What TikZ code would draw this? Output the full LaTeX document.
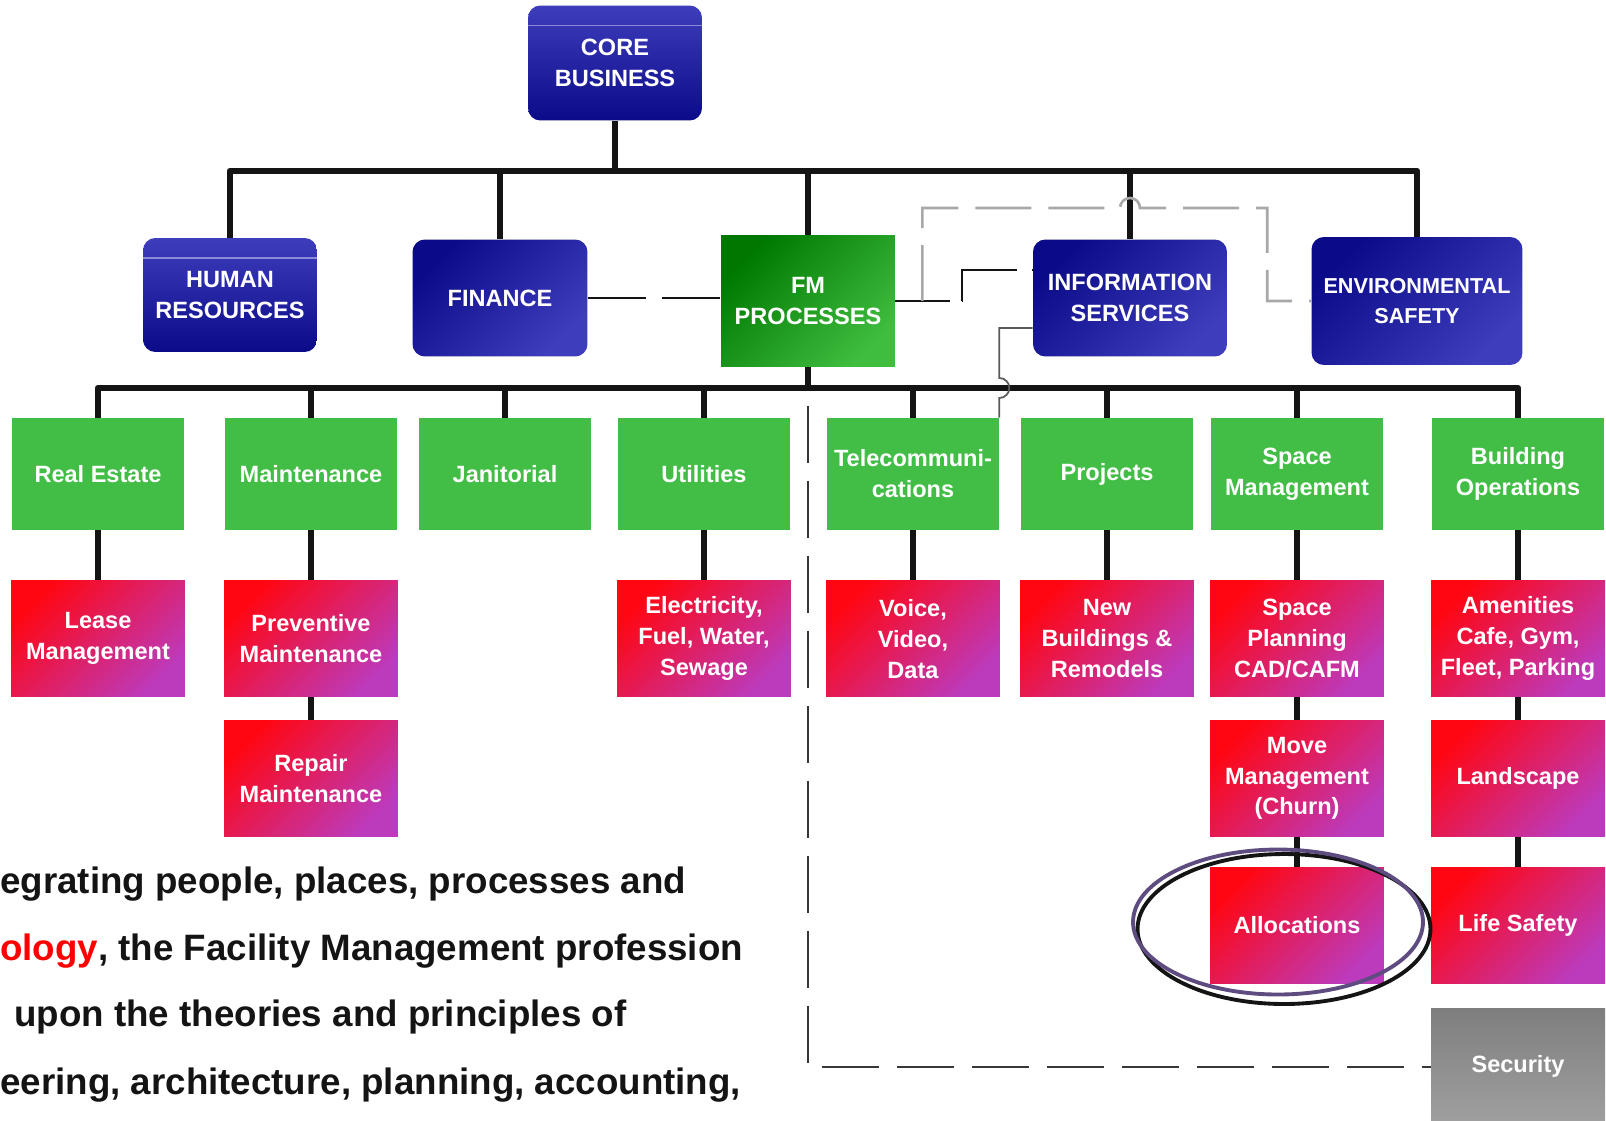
\documentclass[tikz,border=0pt]{standalone}
\usepackage{fontspec}
\setmainfont{Liberation Sans}
\usepackage{tikz}
\usetikzlibrary{
  calc,
  positioning
}
\definecolor{ink}{HTML}{141414}
\definecolor{navydark}{HTML}{0B0B8A}
\definecolor{navylight}{HTML}{3E3EBC}
\definecolor{navyedge}{HTML}{8A8AD8}
\definecolor{fmdark}{HTML}{007800}
\definecolor{fmlight}{HTML}{3FBD3F}
\definecolor{leaf}{HTML}{42BE46}
\definecolor{alarm}{HTML}{FF0612}
\definecolor{berry}{HTML}{E01E52}
\definecolor{plum}{HTML}{BC3ABC}
\definecolor{stone}{HTML}{7E7E7E}
\definecolor{stonelight}{HTML}{A0A0A0}
\definecolor{dashgrey}{HTML}{A8A8A8}
\definecolor{wire}{HTML}{5A5A5A}
\definecolor{ringpurple}{HTML}{5E4C80}
\definecolor{alert}{HTML}{FF0000}
\newcommand{\BoxFont}{\bfseries\fontsize{13.4}{17.6}\selectfont}
\tikzset{
  unitbox/.style={
    rounded corners=7pt,
    minimum width=3.48cm,
    minimum height=2.3cm,
    inner sep=2pt,
    align=center,
    text=white,
    font=\BoxFont
  },
  flatunit/.style={
    unitbox,
    top color=navylight,
    bottom color=navydark,
    path picture={
      \draw[navyedge, line width=1pt]
        ([yshift=-0.4cm]path picture bounding box.north west) --
        ([yshift=-0.4cm]path picture bounding box.north east);
    }
  },
  swirlunit/.style={
    unitbox,
    top color=navydark,
    bottom color=navylight,
    shading angle=45
  },
  fmbox/.style={
    top color=fmdark,
    bottom color=fmlight,
    shading angle=45,
    minimum width=3.48cm,
    minimum height=2.64cm,
    inner sep=2pt,
    align=center,
    text=white,
    font=\BoxFont
  },
  areabox/.style={
    fill=leaf,
    minimum width=3.44cm,
    minimum height=2.24cm,
    inner sep=2pt,
    align=center,
    text=white,
    font=\BoxFont
  },
  taskbox/.style={
    top color=alarm,
    middle color=berry,
    bottom color=plum,
    shading angle=45,
    minimum width=3.48cm,
    minimum height=2.32cm,
    inner sep=2pt,
    align=center,
    text=white,
    font=\BoxFont
  },
  guardbox/.style={
    taskbox,
    top color=stone,
    middle color=stone!60!stonelight,
    bottom color=stonelight
  },
  trunk/.style={
    line width=3.9pt,
    draw=ink,
    line join=round
  },
  peerlink/.style={
    line width=1.1pt,
    draw=ink
  },
  auxlink/.style={
    line width=1.5pt,
    draw=dashgrey,
    dash pattern=on 1.12cm off 0.34cm
  },
  thinlink/.style={
    line width=1pt,
    draw=wire
  },
  seclink/.style={
    line width=1.2pt,
    draw=ink!85,
    dash pattern=on 1.14cm off 0.36cm,
    dash phase=1.14cm
  },
  ring/.style={
    line width=2.2pt
  },
  blurb/.style={
    anchor=base west,
    inner sep=0pt,
    text=ink,
    font=\bfseries\fontsize{20.9}{25}\selectfont
  }
}

\begin{document}
\begin{tikzpicture}[x=0.02cm, y=-0.02cm, node distance=1cm]
    \useasboundingbox (0,0) rectangle (1606,1121);
    \node[flatunit] (core) at (615,63) {CORE\\BUSINESS};
    \node[flatunit, minimum height=2.28cm] (humanres) at (230,295) {HUMAN\\RESOURCES};
    \node[swirlunit, minimum width=3.5cm, minimum height=2.34cm] (finance) at (500,298) {FINANCE};
    \node[fmbox] (fmproc) at (808,301) {FM\\PROCESSES};
    \node[swirlunit, minimum width=3.88cm, minimum height=2.34cm] (infoserv) at (1130,298) {INFORMATION\\SERVICES};
    \node[swirlunit, minimum width=4.22cm, minimum height=2.56cm,
      font=\bfseries\fontsize{12.3}{16.6}\selectfont] (envsafety) at (1417,301) {ENVIRONMENTAL\\SAFETY};

    \node[areabox] (realestate) at (98,474) {Real Estate};
    \node[areabox] (maint) at (311,474) {Maintenance};
    \node[areabox] (janitorial) at (505,474) {Janitorial};
    \node[areabox] (utilities) at (704,474) {Utilities};
    \node[areabox] (telecom) at (913,474) {Telecommuni-\\cations};
    \node[areabox] (projects) at (1107,474) {Projects};
    \node[areabox] (spacemgmt) at (1297,474) {Space\\Management};
    \node[areabox] (buildops) at (1518,474) {Building\\Operations};

    \node[taskbox, below=of realestate] (lease) {Lease\\Management};
    \node[taskbox, below=of maint] (preventive) {Preventive\\Maintenance};
    \node[taskbox, below=0.46cm of preventive] (repair) {Repair\\Maintenance};
    \node[taskbox, below=of utilities] (power) {Electricity,\\Fuel, Water,\\Sewage};
    \node[taskbox, below=of telecom] (voice) {Voice,\\Video,\\Data};
    \node[taskbox, below=of projects] (newbuild) {New\\Buildings \&\\Remodels};
    \node[taskbox, below=of spacemgmt] (spaceplan) {Space\\Planning\\CAD/CAFM};
    \node[taskbox, below=0.46cm of spaceplan] (movemgmt) {Move\\Management\\(Churn)};
    \node[taskbox, below=0.6cm of movemgmt] (allocations) {Allocations};
    \node[taskbox, below=of buildops] (amenities) {Amenities\\Cafe, Gym,\\Fleet, Parking};
    \node[taskbox, below=0.46cm of amenities] (landscape) {Landscape};
    \node[taskbox, below=0.6cm of landscape] (lifesafety) {Life Safety};
    \node[guardbox, below=0.5cm of lifesafety] (security) {Security};

    \coordinate (topbar) at (0,171);
    \coordinate (lowbar) at (0,388);
    \coordinate (greyrun) at (0,208);
    \draw[trunk] (core.south) -- (core.south |- topbar);
    \draw[trunk] (humanres.north) |- (envsafety.north |- topbar) -- (envsafety.north);
    \foreach \n in {finance,fmproc,infoserv}
      \draw[trunk] (\n.north) -- (\n.north |- topbar);
    \draw[trunk] (fmproc.south) -- (fmproc.south |- lowbar);
    \draw[trunk] (realestate.north) |- (buildops.north |- lowbar) -- (buildops.north);
    \foreach \n in {maint,janitorial,utilities,telecom,projects,spacemgmt}
      \draw[trunk] (\n.north) -- (\n.north |- lowbar);
    \draw[trunk] (realestate) -- (lease);
    \draw[trunk] (maint) -- (preventive) -- (repair);
    \draw[trunk] (utilities) -- (power);
    \draw[trunk] (telecom) -- (voice);
    \draw[trunk] (projects) -- (newbuild);
    \draw[trunk] (spacemgmt) -- (spaceplan) -- (movemgmt) -- (allocations);
    \draw[trunk] (buildops) -- (amenities) -- (landscape) -- (lifesafety);

    \draw[peerlink, dash pattern=on 1.16cm off 0.32cm]
      (finance.east) -- (finance.east -| fmproc.west);
    \draw[peerlink, dash pattern=on 1.1cm off 0.24cm on 1.72cm off 0.3cm]
      (fmproc.east) -- ++(67,0) |- ([yshift=0.56cm]infoserv.west);
    \draw[auxlink] ([xshift=0.54cm]fmproc.east) |- ($(infoserv.north |- greyrun)+(-10,0)$)
      arc[start angle=180, end angle=0, radius=0.2cm]
      -| ([xshift=-0.88cm]envsafety.west) -- (envsafety.west);
    \draw[thinlink] ([yshift=-0.6cm]infoserv.west) -| ($(telecom.north east |- lowbar)+(0,-10)$)
      arc[start angle=90, end angle=-90, radius=0.2cm] -- (telecom.north east);
    \draw[seclink] (fmproc.south |- lowbar) |- (security.west);

    \draw[ring, draw=ink] ([xshift=-0.26cm, yshift=-0.08cm]allocations.center)
      ellipse [x radius=2.93cm, y radius=1.5cm];
    \draw[ring, draw=ringpurple] ([xshift=-0.38cm, yshift=0.06cm]allocations.center)
      ellipse [x radius=2.9cm, y radius=1.45cm];

    \node[blurb] (blurba) at (0,893) {egrating people, places, processes and};
    \node[blurb] (blurbb) at (0,960) {\textcolor{alert}{ology}, the Facility Management profession};
    \node[blurb] (blurbc) at (14,1026) {upon the theories and principles of};
    \node[blurb] (blurbd) at (0,1094) {eering, architecture, planning, accounting,};
  \end{tikzpicture}
\end{document}
